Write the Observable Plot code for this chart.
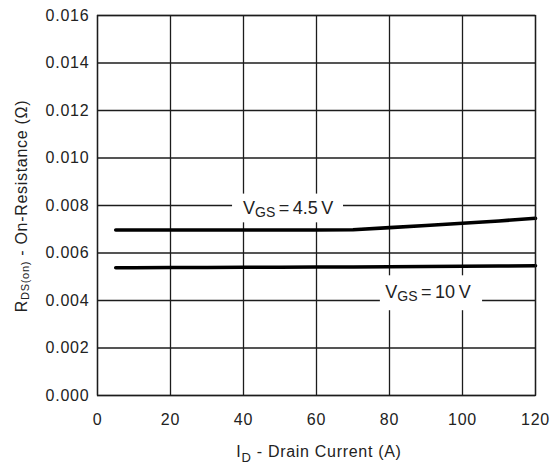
<!DOCTYPE html>
<html><head><meta charset="utf-8">
<script src="https://cdn.jsdelivr.net/npm/d3@7"></script>
<script src="https://cdn.jsdelivr.net/npm/@observablehq/plot@0.6"></script>
<style>
body{margin:0;background:#fff;}
svg text{font-family:"Liberation Sans",Arial,Helvetica,sans-serif;}
</style></head><body><div id="chart"></div>
<script>
// Tick values
const xTicks = [0, 20, 40, 60, 80, 100, 120];
const yTicks = [0, 0.002, 0.004, 0.006, 0.008, 0.010, 0.012, 0.014, 0.016];

// Series: drain current (A) and on-resistance (ohm)
const current = [5, 10, 20, 30, 40, 50, 60, 70, 80, 90, 100, 110, 120];
const rds45 = [0.00697, 0.00697, 0.00697, 0.00697, 0.00697, 0.00697, 0.00697, 0.00698, 0.00707, 0.00716, 0.00725, 0.00735, 0.00746];
const rds10 = [0.00538, 0.00538, 0.00539, 0.00539, 0.00540, 0.00540, 0.00541, 0.00541, 0.00542, 0.00543, 0.00544, 0.00545, 0.00546];

// Curve labels (V_GS) and their annotation boxes, in data units
const labelVgs = ["4.5", "10"];
const labelX = [40.0, 79.0];
const labelY = [0.00764, 0.00407];
const boxX1 = [37.0, 77.5];
const boxX2 = [67.4, 105.5];
const boxY1 = [0.00727, 0.00357];
const boxY2 = [0.00848, 0.00504];

const series = [
  ...current.map((x, i) => ({x, y: rds45[i], s: "4.5"})),
  ...current.map((x, i) => ({x, y: rds10[i], s: "10"}))
];
const boxes = labelVgs.map((v, i) => ({x1: boxX1[i], x2: boxX2[i], y1: boxY1[i], y2: boxY2[i]}));

const ink = "#1c1c1c";
const chart = Plot.plot({
  width: 559, height: 470,
  marginLeft: 97, marginRight: 24, marginTop: 15, marginBottom: 75,
  x: {domain: [0, 120]},
  y: {domain: [0, 0.016]},
  style: {fontSize: "16px", fontFamily: "'Liberation Sans', Arial, sans-serif", color: "#222", background: "#fff"},
  marks: [
    Plot.gridX(xTicks, {stroke: ink, strokeOpacity: 1, strokeWidth: 1.3}),
    Plot.gridY(yTicks, {stroke: ink, strokeOpacity: 1, strokeWidth: 1.3}),
    Plot.rect(boxes, {x1: "x1", x2: "x2", y1: "y1", y2: "y2", fill: "white"}),
    Plot.line(series, {x: "x", y: "y", z: "s", stroke: "black", strokeWidth: 3.6}),
    Plot.frame({stroke: ink, strokeWidth: 1.3}),
    Plot.axisX(xTicks, {tickSize: 0, tickPadding: 18, label: null, tickFormat: d => String(d)}),
    Plot.axisY(yTicks, {tickSize: 0, tickPadding: 8, label: null, tickFormat: d3.format(".3f")})
  ]
});

const svg = d3.select(chart);
svg.selectAll("g[aria-label='x-axis tick label'] text, g[aria-label='y-axis tick label'] text")
  .style("letter-spacing", "0.8px");

const sx = chart.scale("x"), sy = chart.scale("y");

// Curve labels with subscripts
labelVgs.forEach((v, i) => {
  const t = svg.append("text")
    .attr("x", sx.apply(labelX[i]))
    .attr("y", sy.apply(labelY[i]))
    .attr("text-anchor", "start")
    .attr("fill", "#222")
    .style("font-size", "18px")
    .style("word-spacing", "-1.5px");
  t.append("tspan").text("V");
  t.append("tspan").attr("dy", 3).style("font-size", "14px").text("GS");
  t.append("tspan").attr("dy", -3).text(` = ${v} V`);
});

// Axis titles
const xr = sx.range, yr = sy.range;
const xt = svg.append("text")
  .attr("x", (xr[0] + xr[1]) / 2 + 3)
  .attr("y", 457)
  .attr("text-anchor", "middle")
  .attr("fill", "#222")
  .style("font-size", "16px")
  .style("letter-spacing", "0.7px");
xt.append("tspan").text("I");
xt.append("tspan").attr("dy", 5).style("font-size", "13px").text("D");
xt.append("tspan").attr("dy", -5).text(" - Drain Current (A)");

const yt = svg.append("text")
  .attr("transform", `translate(27,${(yr[0] + yr[1]) / 2 + 1}) rotate(-90)`)
  .attr("text-anchor", "middle")
  .attr("fill", "#222")
  .style("font-size", "16px")
  .style("letter-spacing", "0.7px");
yt.append("tspan").text("R");
yt.append("tspan").attr("dy", 2).style("font-size", "11px").text("DS(on)");
yt.append("tspan").attr("dy", -2).text(" - On-Resistance (Ω)");

document.getElementById("chart").appendChild(chart);
</script>
</body></html>
